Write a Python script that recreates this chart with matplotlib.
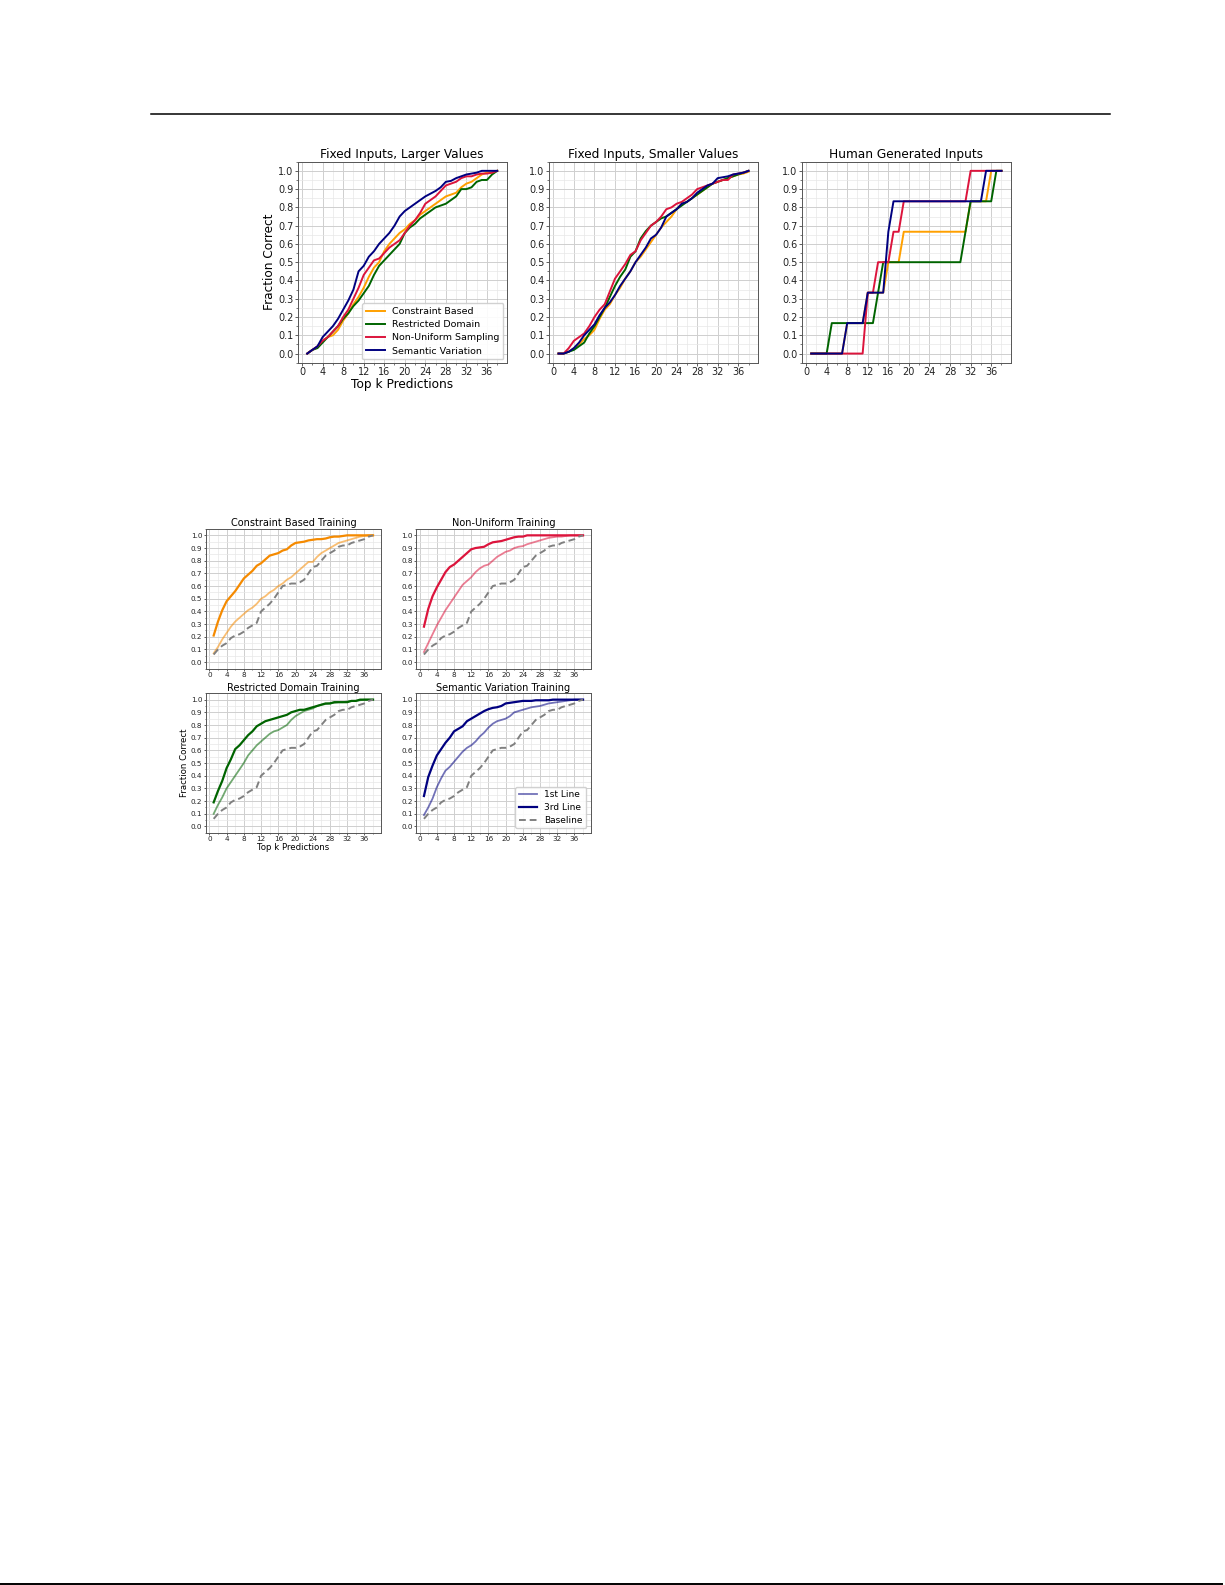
import matplotlib
matplotlib.use("Agg")
import matplotlib.pyplot as plt
from matplotlib.ticker import MultipleLocator
from matplotlib.lines import Line2D

W, H = 1225, 1585

# ---------------- data ----------------
k = list(range(1, 39))

# Top row: Fixed Inputs, Larger Values
larger_constraint = [0, 0.02, 0.035, 0.07, 0.09, 0.10, 0.13, 0.18, 0.22, 0.27, 0.31, 0.36, 0.42, 0.47, 0.50,
                     0.56, 0.60, 0.63, 0.66, 0.68, 0.71, 0.73, 0.76, 0.78, 0.80, 0.82, 0.84, 0.86, 0.87, 0.88,
                     0.91, 0.93, 0.94, 0.96, 0.98, 0.99, 0.99, 1.0]
larger_restricted = [0, 0.02, 0.03, 0.06, 0.09, 0.12, 0.15, 0.19, 0.22, 0.26, 0.29, 0.33, 0.37, 0.43, 0.48,
                     0.51, 0.54, 0.57, 0.60, 0.66, 0.69, 0.71, 0.74, 0.76, 0.78, 0.80, 0.81, 0.82, 0.84, 0.86,
                     0.90, 0.90, 0.91, 0.94, 0.95, 0.95, 0.98, 1.0]
larger_nonuniform = [0, 0.02, 0.04, 0.07, 0.09, 0.12, 0.15, 0.20, 0.24, 0.30, 0.36, 0.43, 0.47, 0.51, 0.52,
                     0.55, 0.58, 0.60, 0.62, 0.66, 0.70, 0.73, 0.77, 0.82, 0.84, 0.86, 0.89, 0.92, 0.93, 0.94,
                     0.96, 0.97, 0.97, 0.98, 0.985, 0.985, 0.99, 1.0]
larger_semantic = [0, 0.02, 0.04, 0.09, 0.12, 0.15, 0.19, 0.24, 0.29, 0.35, 0.45, 0.48, 0.53, 0.56, 0.60,
                   0.63, 0.66, 0.70, 0.75, 0.78, 0.80, 0.82, 0.84, 0.86, 0.875, 0.89, 0.91, 0.94, 0.945, 0.96,
                   0.97, 0.98, 0.985, 0.99, 1.0, 1.0, 1.0, 1.0]

# Top row: Fixed Inputs, Smaller Values
smaller_constraint = [0, 0.0, 0.01, 0.03, 0.05, 0.08, 0.10, 0.13, 0.19, 0.24, 0.27, 0.32, 0.36, 0.41, 0.45,
                      0.50, 0.53, 0.57, 0.61, 0.65, 0.69, 0.72, 0.75, 0.79, 0.82, 0.83, 0.85, 0.87, 0.89, 0.91,
                      0.93, 0.94, 0.95, 0.96, 0.97, 0.98, 0.985, 0.995]
smaller_restricted = [0, 0.0, 0.01, 0.02, 0.04, 0.06, 0.11, 0.15, 0.20, 0.25, 0.31, 0.37, 0.42, 0.46, 0.53,
                      0.56, 0.63, 0.67, 0.70, 0.72, 0.74, 0.75, 0.77, 0.79, 0.81, 0.83, 0.85, 0.87, 0.89, 0.91,
                      0.93, 0.94, 0.95, 0.96, 0.97, 0.98, 0.99, 1.0]
smaller_nonuniform = [0, 0.0, 0.03, 0.07, 0.09, 0.11, 0.15, 0.20, 0.24, 0.27, 0.34, 0.41, 0.45, 0.49, 0.54,
                      0.56, 0.62, 0.66, 0.70, 0.72, 0.75, 0.79, 0.80, 0.82, 0.83, 0.85, 0.87, 0.90, 0.91, 0.92,
                      0.93, 0.94, 0.95, 0.95, 0.98, 0.985, 0.99, 1.0]
smaller_semantic = [0, 0.0, 0.01, 0.03, 0.06, 0.10, 0.13, 0.16, 0.21, 0.25, 0.28, 0.32, 0.37, 0.41, 0.45,
                    0.50, 0.54, 0.58, 0.63, 0.65, 0.69, 0.75, 0.77, 0.79, 0.82, 0.83, 0.85, 0.88, 0.90, 0.92,
                    0.93, 0.96, 0.965, 0.97, 0.98, 0.985, 0.99, 1.0]

# Top row: Human Generated Inputs (sixths)
human_constraint = [0, 0, 0, 0, 0, 0, 0, 1/6, 1/6, 1/6, 1/6, 2/6, 2/6, 2/6, 2/6, 3/6, 3/6, 3/6, 4/6, 4/6,
                    4/6, 4/6, 4/6, 4/6, 4/6, 4/6, 4/6, 4/6, 4/6, 4/6, 4/6, 5/6, 5/6, 5/6, 5/6, 1, 1, 1]
human_restricted = [0, 0, 0, 0, 1/6, 1/6, 1/6, 1/6, 1/6, 1/6, 1/6, 1/6, 1/6, 2/6, 3/6, 3/6, 3/6, 3/6, 3/6, 3/6,
                    3/6, 3/6, 3/6, 3/6, 3/6, 3/6, 3/6, 3/6, 3/6, 3/6, 4/6, 5/6, 5/6, 5/6, 5/6, 5/6, 1, 1]
human_nonuniform = [0, 0, 0, 0, 0, 0, 0, 0, 0, 0, 0, 2/6, 2/6, 3/6, 3/6, 3/6, 4/6, 4/6, 5/6, 5/6,
                    5/6, 5/6, 5/6, 5/6, 5/6, 5/6, 5/6, 5/6, 5/6, 5/6, 5/6, 1, 1, 1, 1, 1, 1, 1]
human_semantic = [0, 0, 0, 0, 0, 0, 0, 1/6, 1/6, 1/6, 1/6, 2/6, 2/6, 2/6, 2/6, 4/6, 5/6, 5/6, 5/6, 5/6,
                  5/6, 5/6, 5/6, 5/6, 5/6, 5/6, 5/6, 5/6, 5/6, 5/6, 5/6, 5/6, 5/6, 5/6, 1, 1, 1, 1]

# Bottom grid: training comparisons
baseline = [0.06, 0.10, 0.13, 0.15, 0.19, 0.21, 0.22, 0.24, 0.27, 0.29, 0.31, 0.40, 0.43, 0.46, 0.50,
            0.55, 0.60, 0.61, 0.62, 0.62, 0.63, 0.65, 0.70, 0.75, 0.76, 0.80, 0.84, 0.86, 0.88, 0.91,
            0.92, 0.92, 0.94, 0.95, 0.96, 0.97, 0.99, 1.0]
constraint_1st = [0.07, 0.12, 0.18, 0.23, 0.28, 0.32, 0.35, 0.38, 0.41, 0.43, 0.46, 0.50, 0.52, 0.55, 0.57,
                  0.60, 0.62, 0.65, 0.67, 0.70, 0.73, 0.76, 0.79, 0.79, 0.83, 0.86, 0.88, 0.90, 0.92, 0.94,
                  0.95, 0.96, 0.97, 0.98, 0.99, 0.995, 1.0, 1.0]
constraint_3rd = [0.21, 0.32, 0.41, 0.48, 0.52, 0.56, 0.61, 0.66, 0.69, 0.72, 0.76, 0.78, 0.81, 0.84, 0.85,
                  0.86, 0.88, 0.89, 0.92, 0.94, 0.945, 0.95, 0.96, 0.965, 0.97, 0.97, 0.975, 0.985, 0.99, 0.99,
                  0.995, 1.0, 1.0, 1.0, 1.0, 1.0, 1.0, 1.0]
nonuniform_1st = [0.08, 0.15, 0.22, 0.29, 0.35, 0.41, 0.46, 0.51, 0.56, 0.61, 0.64, 0.67, 0.71, 0.74, 0.76,
                  0.77, 0.80, 0.83, 0.85, 0.87, 0.88, 0.90, 0.91, 0.915, 0.93, 0.94, 0.95, 0.96, 0.97, 0.98,
                  0.985, 0.99, 0.99, 0.995, 1.0, 1.0, 1.0, 1.0]
nonuniform_3rd = [0.28, 0.42, 0.52, 0.59, 0.65, 0.71, 0.75, 0.77, 0.80, 0.83, 0.86, 0.89, 0.90, 0.905, 0.91,
                  0.93, 0.945, 0.95, 0.955, 0.965, 0.975, 0.985, 0.99, 0.99, 1.0, 1.0, 1.0, 1.0, 1.0, 1.0,
                  1.0, 1.0, 1.0, 1.0, 1.0, 1.0, 1.0, 1.0]
restricted_1st = [0.10, 0.17, 0.23, 0.30, 0.35, 0.40, 0.45, 0.50, 0.56, 0.60, 0.64, 0.67, 0.70, 0.73, 0.75,
                  0.76, 0.78, 0.80, 0.84, 0.87, 0.89, 0.91, 0.92, 0.93, 0.95, 0.96, 0.965, 0.97, 0.975, 0.98,
                  0.98, 0.985, 0.99, 0.99, 0.995, 1.0, 1.0, 1.0]
restricted_3rd = [0.19, 0.28, 0.36, 0.46, 0.53, 0.61, 0.64, 0.68, 0.72, 0.75, 0.79, 0.81, 0.83, 0.84, 0.85,
                  0.86, 0.87, 0.88, 0.90, 0.91, 0.92, 0.92, 0.93, 0.94, 0.95, 0.96, 0.97, 0.97, 0.98, 0.98,
                  0.98, 0.98, 0.99, 0.99, 1.0, 1.0, 1.0, 1.0]
semantic_1st = [0.09, 0.15, 0.22, 0.31, 0.38, 0.44, 0.47, 0.51, 0.55, 0.59, 0.62, 0.64, 0.67, 0.71, 0.74,
                0.78, 0.81, 0.83, 0.84, 0.85, 0.87, 0.90, 0.91, 0.92, 0.93, 0.94, 0.945, 0.95, 0.96, 0.97,
                0.975, 0.98, 0.985, 0.99, 0.995, 1.0, 1.0, 1.0]
semantic_3rd = [0.24, 0.39, 0.48, 0.56, 0.61, 0.66, 0.70, 0.75, 0.77, 0.79, 0.83, 0.85, 0.87, 0.89, 0.91,
                0.925, 0.935, 0.94, 0.95, 0.97, 0.975, 0.98, 0.985, 0.99, 0.99, 0.99, 0.995, 0.995, 0.995, 0.995,
                1.0, 1.0, 1.0, 1.0, 1.0, 1.0, 1.0, 1.0]

method_labels = ["Constraint Based", "Restricted Domain", "Non-Uniform Sampling", "Semantic Variation"]
method_colors = ["#ffa000", "#006400", "#dc143c", "#000080"]
top_titles = ["Fixed Inputs, Larger Values", "Fixed Inputs, Smaller Values", "Human Generated Inputs"]
bottom_titles = ["Constraint Based Training", "Non-Uniform Training",
                 "Restricted Domain Training", "Semantic Variation Training"]
bottom_colors = ["#f58a00", "#dc143c", "#006400", "#000080"]
legend2_labels = ["1st Line", "3rd Line", "Baseline"]
xticks = list(range(0, 40, 4))
yticks = [i / 10 for i in range(11)]

# ---------------- figure ----------------
fig = plt.figure(figsize=(W / 100, H / 100), dpi=100)
fig.patch.set_facecolor("white")


def add_ax(x0, y0, x1, y1):
    return fig.add_axes([x0 / W, 1 - y1 / H, (x1 - x0) / W, (y1 - y0) / H])


def style(ax, tick_fs, tlen, tpad):
    ax.set_xticks(xticks)
    ax.set_yticks(yticks)
    ax.xaxis.set_minor_locator(MultipleLocator(2))
    ax.yaxis.set_minor_locator(MultipleLocator(0.05))
    ax.set_xlim(-0.85, 39.85)
    ax.set_ylim(-0.05, 1.05)
    ax.grid(which="major", color="#cfcfcf", linewidth=0.7)
    ax.grid(which="minor", color="#e8e8e8", linewidth=0.5)
    ax.set_axisbelow(True)
    ax.tick_params(which="major", labelsize=tick_fs, length=tlen, pad=tpad, width=0.6,
                   colors="#444444", labelcolor="#222222")
    ax.tick_params(which="minor", length=tlen * 0.6, width=0.5, colors="#444444")
    ax.yaxis.set_major_formatter(matplotlib.ticker.FormatStrFormatter("%.1f"))
    for s in ax.spines.values():
        s.set_color("#555555")
        s.set_linewidth(0.7)


# page rules
fig.add_artist(Line2D([151 / W, 1110 / W], [1 - 114 / H, 1 - 114 / H], color="black", linewidth=1.1))
fig.add_artist(Line2D([0 / W, 1222 / W], [1 - 1583.5 / H, 1 - 1583.5 / H], color="black", linewidth=1.4))

# top row
top_x = [(297.7, 506.7), (549, 758), (801.7, 1011)]
top_data = [
    [larger_constraint, larger_restricted, larger_nonuniform, larger_semantic],
    [smaller_constraint, smaller_restricted, smaller_nonuniform, smaller_semantic],
    [human_constraint, human_restricted, human_nonuniform, human_semantic],
]
for i, (x0, x1) in enumerate(top_x):
    ax = add_ax(x0, 161.7, x1, 362.7)
    style(ax, 7, 2.0, 1.2)
    for series, col, lab in zip(top_data[i], method_colors, method_labels):
        ax.plot(k, series, color=col, linewidth=1.4, label=lab)
    ax.set_title(top_titles[i], fontsize=8.7, pad=3)
    if i == 0:
        ax.set_ylabel("Fraction Correct", fontsize=8.7, labelpad=1.5)
        ax.set_xlabel("Top k Predictions", fontsize=8.7, labelpad=0.5)
        ax.legend(loc="lower right", fontsize=6.8, borderaxespad=0.35, framealpha=0.9,
                  edgecolor="#cccccc", handlelength=2.0, labelspacing=0.45)

# bottom grid
bx = [(205.7, 381), (416, 591)]
by = [(529, 668.5), (693.3, 832.8)]
bottom_data = [
    (constraint_1st, constraint_3rd),
    (nonuniform_1st, nonuniform_3rd),
    (restricted_1st, restricted_3rd),
    (semantic_1st, semantic_3rd),
]
for idx in range(4):
    r, c = divmod(idx, 2)
    ax = add_ax(bx[c][0], by[r][0], bx[c][1], by[r][1])
    style(ax, 5.2, 1.5, 1.0)
    first, third = bottom_data[idx]
    col = bottom_colors[idx]
    ax.plot(k, first, color=col, alpha=0.55, linewidth=1.3, label=legend2_labels[0])
    ax.plot(k, third, color=col, linewidth=1.6, label=legend2_labels[1])
    ax.plot(k, baseline, color="#808080", linestyle=(0, (3.5, 2)), linewidth=1.4, label=legend2_labels[2])
    ax.set_title(bottom_titles[idx], fontsize=7, pad=2)
    if idx == 2:
        ax.set_ylabel("Fraction Correct", fontsize=6.2, labelpad=1.5)
        ax.set_xlabel("Top k Predictions", fontsize=6.2, labelpad=0.5)
    if idx == 3:
        ax.legend(loc="lower right", fontsize=6.5, borderaxespad=0.5, framealpha=0.9,
                  edgecolor="#cccccc", handlelength=2.0, labelspacing=0.4)

fig.savefig("out.png", dpi=100, facecolor="white")
